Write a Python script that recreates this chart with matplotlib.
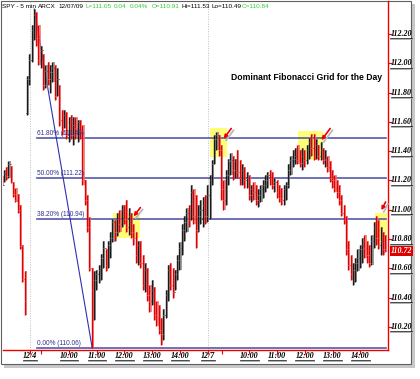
import numpy as np
import matplotlib.pyplot as plt
from matplotlib.patches import Rectangle
from matplotlib.lines import Line2D
import matplotlib.transforms as mtransforms

# ---------------- data: SPY 5 min bars ----------------
# tail of 12/3, then full 12/4 and 12/7 sessions
dec3_open0 = 111.22
dec3_high = [111.23, 111.27, 111.29, 111.33, 111.30, 111.19, 111.15, 111.11, 111.03, 110.76, 110.58]
dec3_low = [111.16, 111.19, 111.20, 111.22, 111.18, 111.09, 111.05, 110.98, 110.73, 110.51, 110.28]
dec3_close = [111.17, 111.25, 111.23, 111.31, 111.19, 111.11, 111.07, 111.00, 110.75, 110.53, 110.38]

dec4_open0 = 111.66
dec4_high = [111.91, 112.06, 112.26, 112.37, 112.35, 112.26, 112.12, 112.06, 111.99, 112.01,
             111.99, 112.01, 111.99, 111.97, 111.85, 111.68, 111.68, 111.67, 111.63, 111.65,
             111.63, 111.63, 111.61, 111.61, 111.58, 111.20, 111.10, 110.95, 110.60, 110.58,
             110.59, 110.62, 110.70, 110.79, 110.73, 110.79, 110.85, 110.94, 110.93, 110.98,
             111.00, 111.03, 111.03, 111.07, 111.01, 110.98, 110.90, 110.85, 110.79, 110.79,
             110.69, 110.64, 110.60, 110.49, 110.52, 110.47, 110.38, 110.35, 110.26, 110.32,
             110.45, 110.62, 110.64, 110.60, 110.59, 110.69, 110.78, 110.90, 110.96, 111.01,
             111.03, 111.17, 111.14, 111.10, 111.03, 111.07, 111.09, 111.10]
dec4_low = [111.65, 111.85, 112.01, 112.16, 112.12, 111.99, 111.97, 111.82, 111.83, 111.85,
            111.80, 111.87, 111.75, 111.78, 111.57, 111.51, 111.56, 111.48, 111.46, 111.48,
            111.44, 111.48, 111.46, 111.48, 111.17, 111.03, 110.85, 110.58, 110.06, 110.25,
            110.45, 110.50, 110.52, 110.60, 110.58, 110.60, 110.67, 110.78, 110.79, 110.82,
            110.85, 110.88, 110.90, 110.85, 110.83, 110.81, 110.76, 110.64, 110.62, 110.60,
            110.45, 110.44, 110.38, 110.30, 110.35, 110.25, 110.21, 110.15, 110.08, 110.11,
            110.26, 110.38, 110.45, 110.40, 110.45, 110.52, 110.59, 110.69, 110.79, 110.85,
            110.88, 110.93, 110.90, 110.74, 110.85, 110.90, 110.88, 110.90]
dec4_close = [111.89, 112.02, 112.23, 112.33, 112.17, 112.02, 112.09, 111.85, 111.95, 111.89,
              111.94, 111.97, 111.78, 111.89, 111.61, 111.54, 111.65, 111.51, 111.58, 111.51,
              111.58, 111.56, 111.60, 111.54, 111.20, 111.07, 110.88, 110.60, 110.45, 110.52,
              110.56, 110.59, 110.67, 110.74, 110.62, 110.76, 110.81, 110.92, 110.85, 110.94,
              110.90, 111.00, 110.94, 110.88, 110.96, 110.85, 110.81, 110.69, 110.76, 110.64,
              110.49, 110.59, 110.42, 110.38, 110.45, 110.28, 110.26, 110.18, 110.15, 110.28,
              110.42, 110.59, 110.49, 110.44, 110.56, 110.66, 110.74, 110.86, 110.92, 110.98,
              110.93, 111.12, 110.96, 110.86, 110.96, 111.00, 111.03, 110.96]

dec7_open0 = 110.96
dec7_high = [111.17, 111.24, 111.34, 111.51, 111.53, 111.51, 111.44, 111.20, 111.27, 111.35,
             111.39, 111.37, 111.35, 111.41, 111.34, 111.31, 111.29, 111.26, 111.24, 111.17,
             111.19, 111.17, 111.14, 111.17, 111.20, 111.24, 111.26, 111.27, 111.26, 111.22,
             111.20, 111.17, 111.15, 111.17, 111.19, 111.31, 111.37, 111.41, 111.42, 111.44,
             111.41, 111.42, 111.41, 111.44, 111.49, 111.52, 111.52, 111.48, 111.44, 111.46,
             111.42, 111.41, 111.37, 111.33, 111.27, 111.24, 111.20, 111.17, 111.10, 111.03,
             110.96, 110.79, 110.69, 110.64, 110.67, 110.73, 110.76, 110.81, 110.83, 110.79,
             110.76, 110.83, 110.92, 110.96, 110.93, 110.88, 110.85, 110.83]
dec7_low = [110.92, 110.94, 111.17, 111.31, 111.41, 111.37, 111.07, 111.00, 111.03, 111.17,
            111.24, 111.20, 111.22, 111.22, 111.17, 111.17, 111.15, 111.15, 111.07, 111.05,
            111.07, 111.03, 111.02, 111.05, 111.08, 111.12, 111.15, 111.17, 111.14, 111.12,
            111.08, 111.05, 111.03, 111.03, 111.07, 111.15, 111.24, 111.29, 111.31, 111.31,
            111.29, 111.27, 111.29, 111.31, 111.35, 111.37, 111.34, 111.35, 111.34, 111.34,
            111.31, 111.29, 111.26, 111.19, 111.15, 111.12, 111.08, 111.03, 110.96, 110.90,
            110.69, 110.59, 110.52, 110.49, 110.51, 110.58, 110.60, 110.64, 110.67, 110.64,
            110.61, 110.62, 110.74, 110.76, 110.73, 110.69, 110.69, 110.71]
dec7_close = [111.10, 111.20, 111.31, 111.48, 111.51, 111.41, 111.14, 111.07, 111.24, 111.33,
              111.34, 111.27, 111.33, 111.26, 111.22, 111.27, 111.20, 111.22, 111.10, 111.14,
              111.12, 111.07, 111.10, 111.14, 111.17, 111.20, 111.24, 111.22, 111.17, 111.19,
              111.12, 111.08, 111.07, 111.14, 111.17, 111.27, 111.34, 111.35, 111.37, 111.34,
              111.32, 111.37, 111.34, 111.41, 111.46, 111.42, 111.37, 111.44, 111.37, 111.41,
              111.34, 111.35, 111.29, 111.22, 111.20, 111.15, 111.12, 111.07, 110.98, 110.93,
              110.73, 110.62, 110.56, 110.59, 110.64, 110.67, 110.73, 110.76, 110.74, 110.69,
              110.64, 110.79, 110.88, 110.81, 110.76, 110.79, 110.73, 110.72]

last_price = 110.72

# fibonacci grid, drawn from the 12/4 high to the 12/4 low
swing_idx = [3, 28]
swing_price = [112.37, 110.06]
fib_price = [111.49, 111.22, 110.94, 110.06]
fib_labels = ["61.80% (111.49)", "50.00% (111.22)", "38.20% (110.94)", "0.00% (110.06)"]

# axis ticks
ytick_vals = [110.20, 110.40, 110.60, 110.80, 111.00, 111.20, 111.40, 111.60, 111.80, 112.00, 112.20]
xtick_idx = [1, 18, 30, 42, 54, 66, 78, 96, 108, 120, 132, 144]
xtick_labels = ["12/4", "10:00", "11:00", "12:00", "13:00", "14:00",
                "12/7", "10:00", "11:00", "12:00", "13:00", "14:00"]
minor_idx = [6, 84]
day_breaks = [1, 78]

# highlighted zones (x0, x1, y0, y1) and arrows (tail -> head)
zones = [(37, 48.7, 110.81, 110.98), (79, 86.3, 111.36, 111.56),
         (117, 128, 111.34, 111.54), (150.3, 155.6, 110.79, 110.98)]
arrows = [((49.6, 111.03), (45.2, 110.94)), ((88.9, 111.57), (84.2, 111.47)),
          ((131.7, 111.57), (126.5, 111.46)), ((155.5, 111.07), (152.6, 110.98))]

header = [(2, "SPY - 5 min", "black"), (38, "ARCX", "black"), (58, "12/07/09", "black"),
          (86, "L=111.05", "#33cc33"), (114, "0.04", "#33cc33"), (130, "0.04%", "#33cc33"),
          (152, "O=110.91", "#33cc33"), (182, "Hi=111.53", "black"),
          (212, "Lo=110.49", "black"), (242, "C=110.84", "#33cc33")]

# ---------------- assemble ----------------
high = np.array(dec3_high + dec4_high + dec7_high)
low = np.array(dec3_low + dec4_low + dec7_low)
close = np.array(dec3_close + dec4_close + dec7_close)
opn = np.array([dec3_open0] + dec3_close[:-1] + [dec4_open0] + dec4_close[:-1]
               + [dec7_open0] + dec7_close[:-1])
x = np.arange(len(close)) - len(dec3_close)

W, H = 420, 379
fig = plt.figure(figsize=(W / 100, H / 100), dpi=100)

# outer frame with a drop shadow
fig.patches.append(Rectangle((4 / W, 1 - 368 / H), 411 / W, 364 / H, transform=fig.transFigure,
                             facecolor="#c8c8c8", edgecolor="none", zorder=-10))
fig.patches.append(Rectangle((1 / W, 1 - 364 / H), 410 / W, 363 / H, transform=fig.transFigure,
                             facecolor="white", edgecolor="#606060", lw=0.8, zorder=-9))

ax = fig.add_axes([3 / W, 1 - 350 / H, 385 / W, 349 / H])
ax.patch.set_alpha(0)
ax.set_xlim(-10.55, 156.0)
ax.set_ylim(110.043, 112.425)

for s in ["left", "top"]:
    ax.spines[s].set_visible(False)
for s in ["right", "bottom"]:
    ax.spines[s].set_color("#ee0000")
    ax.spines[s].set_linewidth(1.0)

# day separators
for d in day_breaks:
    ax.axvline(d, color="#c0c0c0", lw=0.7, ls=(0, (1, 1.5)), zorder=0)

# highlight zones
for x0, x1, y0, y1 in zones:
    ax.add_patch(Rectangle((x0, y0), x1 - x0, y1 - y0, facecolor="#ffff55",
                           edgecolor="none", alpha=0.8, zorder=1))

# fib grid
for p, lab in zip(fib_price, fib_labels):
    ax.plot([4, 155], [p, p], color="#5858aa", lw=1.2, zorder=2)
    ax.text(4, p + 0.006, lab, fontsize=4.7, color="#303090", ha="left", va="bottom",
            family="Liberation Sans", zorder=6)
ax.plot(swing_idx, swing_price, color="#3030b0", lw=0.8, zorder=2)

# OHLC bars: dark stroke with a lighter half
up = close >= opn
for mask, dark, light in [(up, "#1a1a1a", "#808080"), (~up, "#e00000", "#f06a6a")]:
    ax.vlines(x[mask] + 0.3, low[mask], high[mask], color=light, lw=1.1, zorder=3)
    ax.vlines(x[mask] - 0.2, low[mask], high[mask], color=dark, lw=1.0, zorder=4)
    ax.hlines(opn[mask], x[mask] - 0.6, x[mask] - 0.2, color=dark, lw=0.7, zorder=4)
    ax.hlines(close[mask], x[mask] - 0.2, x[mask] + 0.6, color=light, lw=0.7, zorder=4)

# arrows with grey shadow
for (tx, ty), (hx, hy) in arrows:
    ax.annotate("", xy=(hx + 1.0, hy - 0.012), xytext=(tx + 1.0, ty - 0.012),
                arrowprops=dict(arrowstyle="-", color="#b8b8b8", lw=1.3), zorder=5,
                annotation_clip=False)
    ax.annotate("", xy=(hx, hy), xytext=(tx, ty),
                arrowprops=dict(arrowstyle="-|>", color="#ee0000", lw=1.2, mutation_scale=5),
                zorder=6, annotation_clip=False)

ax.text(120.8, 111.90, "Dominant Fibonacci Grid for the Day", fontsize=6.2, fontweight="bold",
        family="Liberation Sans", ha="center", va="center", zorder=6)

# ticks
ax.set_yticks(ytick_vals)
ax.set_xticks(xtick_idx)
ax.set_xticks(minor_idx, minor=True)
ax.set_yticklabels([])
ax.set_xticklabels([])
ax.yaxis.tick_right()
ax.tick_params(axis="both", which="both", direction="out", color="#ee0000", length=3, width=0.8)

lab_font = dict(family="Liberation Serif", fontweight="bold", fontstyle="italic", fontsize=5.8)
ylab_tr = mtransforms.blended_transform_factory(ax.transAxes, ax.transData)
xlab_tr = mtransforms.blended_transform_factory(ax.transData, ax.transAxes)
tick_texts = []
for v in ytick_vals:
    tick_texts.append(ax.text(1.034, v, f"{v:.2f}", transform=ylab_tr, ha="center",
                              va="center", **lab_font))
for i, lab in zip(xtick_idx, xtick_labels):
    tick_texts.append(ax.text(i, -0.017, lab, transform=xlab_tr, ha="center", va="center",
                              clip_on=False, **lab_font))

# current price tag
ax.text(1.034, last_price, f"{last_price:.2f}", transform=ylab_tr, ha="center", va="center",
        color="white", zorder=10, clip_on=False,
        bbox=dict(facecolor="#dd0000", edgecolor="none", pad=0.6), **lab_font)

# header quote line
for px, txt, col in header:
    fig.text(px / W, 1 - 6 / H, txt, fontsize=4.6, color=col, family="Liberation Sans",
             ha="left", va="center")

# underline the axis labels (with a light shadow)
fig.canvas.draw()
for t in tick_texts:
    bb = t.get_window_extent()
    yline = bb.y0 - 0.5
    fig.lines.append(Line2D([bb.x0, bb.x1], [yline - 1, yline - 1], color="#b0b0b0", lw=0.7,
                            transform=mtransforms.IdentityTransform()))
    fig.lines.append(Line2D([bb.x0, bb.x1], [yline, yline], color="black", lw=0.5,
                            transform=mtransforms.IdentityTransform()))

fig.savefig("out.png", dpi=100)
